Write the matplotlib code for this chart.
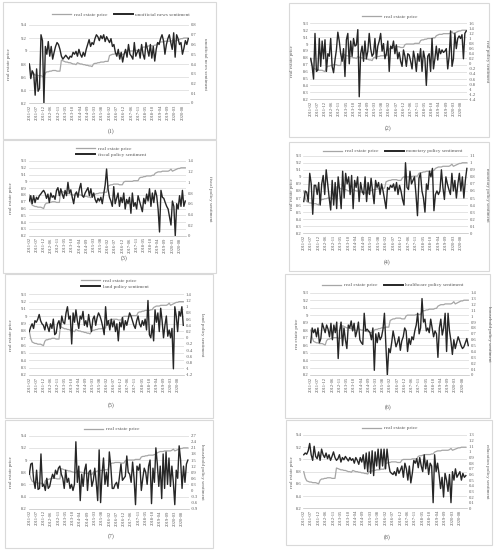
import numpy as np
import matplotlib
matplotlib.use("Agg")
import matplotlib.pyplot as plt
from matplotlib.patches import Rectangle
from matplotlib.lines import Line2D

plt.rcParams['font.family'] = ['Liberation Serif', 'DejaVu Serif']

# month labels: January is merged into February, so 11 points a year, 2011-2020
months = []
for yr in range(2011, 2021):
    for m in range(2, 13):
        months.append("%d-%02d" % (yr, m))

# real estate price (log), same series in every panel
price = [8.80, 8.70, 8.65, 8.64, 8.63, 8.63, 8.62, 8.62, 8.62, 8.61, 8.60,
         8.66, 8.68, 8.68, 8.69, 8.69, 8.70, 8.70, 8.70, 8.69, 8.69, 8.69,
         8.86, 8.85, 8.84, 8.83, 8.83, 8.82, 8.82, 8.81, 8.80, 8.80, 8.79,
         8.82, 8.81, 8.80, 8.80, 8.79, 8.79, 8.78, 8.78, 8.77, 8.77, 8.76,
         8.80, 8.81, 8.81, 8.82, 8.82, 8.83, 8.83, 8.83, 8.84, 8.84, 8.84,
         8.93, 8.94, 8.95, 8.95, 8.96, 8.96, 8.96, 8.96, 8.95, 8.95, 8.95,
         8.99, 9.00, 9.00, 9.00, 9.00, 9.00, 9.00, 9.01, 9.01, 9.01, 9.01,
         9.05, 9.06, 9.06, 9.07, 9.07, 9.08, 9.08, 9.08, 9.08, 9.09, 9.09,
         9.12, 9.13, 9.14, 9.14, 9.14, 9.15, 9.15, 9.15, 9.15, 9.15, 9.16,
         9.18, 9.15, 9.16, 9.17, 9.18, 9.19, 9.19, 9.20, 9.20, 9.20, 9.20]

unofficial_news = [0.40, 0.25, 0.33, 0.30, 0.08, 0.35, 0.12, 0.15, 0.70, 0.64,
                   0.00, 0.58, 0.50, 0.63, 0.48, 0.58, 0.45, 0.52, 0.58, 0.62,
                   0.60, 0.55, 0.48, 0.45, 0.47, 0.49, 0.47, 0.45, 0.48, 0.47,
                   0.52, 0.50, 0.53, 0.48, 0.55, 0.50, 0.47, 0.52, 0.48, 0.55,
                   0.60, 0.65, 0.58, 0.62, 0.60, 0.66, 0.70, 0.68, 0.64, 0.69,
                   0.66, 0.70, 0.63, 0.68, 0.65, 0.62, 0.66, 0.58, 0.60, 0.52,
                   0.48, 0.55, 0.45, 0.52, 0.42, 0.50, 0.55, 0.47, 0.60, 0.50,
                   0.48, 0.45, 0.62, 0.48, 0.52, 0.55, 0.46, 0.60, 0.50, 0.45,
                   0.62, 0.55, 0.48, 0.60, 0.46, 0.58, 0.43, 0.55, 0.62, 0.60,
                   0.66, 0.70, 0.64, 0.50, 0.60, 0.66, 0.70, 0.62, 0.55, 0.72,
                   0.47, 0.70, 0.66, 0.60, 0.62, 0.50, 0.56, 0.64, 0.60, 0.66]

real_policy = [0.20, -0.10, -0.60, 1.20, -0.30, -0.25, 1.00, -0.10, 0.90, 0.20,
               0.95, -0.30, 0.40, 0.30, 1.00, -0.10, -0.35, 0.15, 0.55, 1.25,
               0.90, 0.40, 0.10, 0.60, -0.50, 0.95, 1.20, 0.00, 0.90, 0.30,
               1.00, 0.70, 0.75, 1.35, -1.30, 0.40, 0.70, 0.10, 0.90, 0.20,
               0.50, 1.20, 0.60, 0.30, 0.40, 1.00, 0.20, 0.70, 0.90, 1.20,
               0.50, 0.80, 0.20, 0.40, 0.90, -0.30, 0.70, 0.60, 0.90, 0.40,
               0.75, 0.20, 0.45, 0.10, -0.10, 0.55, 0.30, -0.10, 0.40, 0.35,
               0.10, -0.20, 0.50, 0.20, -0.30, 0.40, 0.10, 0.60, -0.30, 0.50,
               0.20, -0.85, 0.30, 0.40, -0.30, 1.00, -0.20, 0.20, 0.70, 0.15,
               0.60, 0.40, 0.55, 0.45, 0.50, 0.60, -0.20, 0.30, 1.30, -0.10,
               0.20, 1.20, 0.60, 1.00, 1.10, 1.00, 1.15, 0.20, 1.20, 1.30]

fiscal_policy = [0.65, 0.75, 0.60, 0.75, 0.62, 0.72, 0.68, 0.75, 0.78, 0.82,
                 0.85, 0.80, 0.70, 0.78, 0.62, 0.80, 0.72, 0.75, 0.68, 0.85,
                 0.90, 0.75, 0.88, 0.78, 0.70, 0.85, 0.75, 1.00, 0.80, 0.86,
                 0.72, 0.60, 0.78, 0.82, 0.72, 0.88, 0.98, 0.75, 0.72, 0.80,
                 0.85, 0.90, 0.75, 0.88, 0.72, 0.80, 0.68, 0.62, 0.70, 0.65,
                 0.72, 0.60, 0.78, 0.95, 1.25, 0.88, 0.72, 0.65, 0.55, 0.92,
                 0.60, 0.70, 0.80, 0.55, 0.72, 0.62, 0.80, 0.50, 0.68, 0.60,
                 0.72, 0.42, 0.80, 0.55, 0.62, 0.50, 0.75, 0.65, 0.55, 0.45,
                 0.70, 0.60, 0.78, 0.65, 0.88, 0.55, 0.80, 0.62, 0.85, 0.75,
                 0.50, 0.07, 0.85, 0.72, 0.70, 0.62, 0.55, 0.50, 0.35, 0.20,
                 0.65, 0.55, 0.00, 0.60, 0.50, 0.75, 0.55, 0.85, 0.55, 0.65]

monetary_policy = [0.45, 0.60, 0.58, 0.45, 0.85, 0.70, 0.27, 0.68, 0.68, 0.55,
                   0.72, 0.40, 0.70, 0.82, 0.55, 0.90, 0.70, 0.50, 0.33, 0.75,
                   0.40, 0.72, 0.35, 0.80, 0.60, 0.35, 0.88, 0.50, 0.85, 0.70,
                   0.80, 0.55, 0.82, 0.35, 0.75, 0.65, 0.80, 0.45, 0.72, 0.60,
                   0.55, 0.80, 0.45, 0.72, 0.55, 0.78, 0.60, 0.42, 0.75, 0.65,
                   0.72, 0.55, 0.70, 0.60, 0.48, 0.35, 0.65, 0.62, 0.68, 0.65,
                   0.70, 0.60, 0.72, 0.55, 0.68, 0.60, 0.48, 0.40, 1.00, 0.65,
                   0.62, 0.88, 0.70, 0.75, 0.80, 0.55, 0.25, 0.78, 0.85, 0.60,
                   0.50, 0.30, 0.70, 0.62, 0.88, 0.80, 0.92, 0.32, 0.55, 0.60,
                   0.55, 0.60, 0.90, 0.65, 0.48, 0.80, 0.70, 0.62, 0.55, 0.85,
                   0.60, 0.75, 0.50, 0.70, 0.85, 0.60, 0.80, 0.50, 0.75, 0.92]

land_policy = [0.20, 0.35, 0.45, 0.30, 0.55, 0.50, 0.60, 0.75, 0.55, 0.45,
               0.40, 0.25, 0.50, 0.35, 0.20, 0.45, 0.30, 0.60, 0.10, 0.15,
               0.45, 0.55, 0.30, 0.70, 0.50, 0.45, 0.80, 1.00, 0.60, 0.70,
               -0.20, 0.80, 0.50, 0.90, 0.55, 0.30, 0.70, 0.60, 0.85, 0.40,
               0.55, 0.35, 0.75, 0.45, 0.20, 0.60, 0.70, 0.40, 0.65, 0.80,
               0.70, 0.55, 0.35, 0.10, 1.00, 0.40, 0.55, 0.25, 0.60, 0.35,
               0.55, 0.20, 0.45, -0.10, 0.50, 0.35, 0.65, 0.25, 0.55, 0.40,
               0.60, 0.80, 0.70, 0.55, 0.40, 0.30, 0.55, 0.70, 0.45, 0.35,
               0.55, 0.40, 0.60, 0.25, 1.20, 0.10, 0.00, 0.40, -0.10, 0.90,
               0.50, 0.80, 0.20, 0.95, 0.55, 0.00, 0.40, 0.70, 0.05, 0.25,
               0.00, 0.30, -1.00, 1.00, 0.70, 0.20, 0.85, 0.70, 1.00, 0.40]

healthcare_policy = [0.55, 0.80, 0.72, 0.78, 0.65, 0.80, 0.55, 0.62, 0.88, 0.80,
                     0.72, 0.85, 0.78, 0.65, 0.88, 0.60, 0.85, 0.72, 0.90, 0.28,
                     0.75, 0.90, 0.50, 0.80, 0.60, 0.45, 0.85, 0.80, 0.92, 0.75,
                     0.88, 0.65, 0.75, 0.90, 0.60, 0.55, 0.52, 1.05, 0.75, 0.78,
                     0.75, 0.72, 0.60, 0.80, 0.08, 0.70, 0.55, 0.72, 0.60, 0.65,
                     0.78, 1.05, 0.50, 0.00, 0.45, 0.38, 0.55, 0.75, 0.62, 0.48,
                     0.55, 0.65, 0.42, 0.58, 0.65, 0.80, 0.75, 0.40, 0.62, 0.52,
                     0.65, 0.60, 0.75, 0.85, 1.05, 0.70, 0.80, 1.30, 0.90, 0.95,
                     0.75, 0.80, 0.72, 0.95, 0.80, 0.65, 0.75, 0.70, 0.30, 0.80,
                     0.95, 0.68, 0.80, 1.05, 0.40, 1.05, 0.75, 0.58, 0.35, 0.60,
                     0.45, 0.55, 0.65, 0.58, 0.50, 0.45, 0.48, 0.55, 0.62, 0.50]

household_policy = [0.80, 1.30, 1.35, 0.50, 0.10, 1.00, 0.05, 0.10, 1.80, 0.20,
                    0.30, 0.00, 0.60, 0.10, 0.20, 0.55, 0.80, 0.60, 1.00, 0.80,
                    1.10, 1.20, 0.80, 0.60, 0.10, 1.00, 0.40, 0.60, 0.10, 0.30,
                    0.00, 0.30, 2.40, 0.40, 1.20, -0.50, 0.80, 0.20, 1.00, 1.30,
                    0.00, 0.90, 1.00, 0.20, 0.50, 1.10, 0.40, -0.50, 2.00, -0.60,
                    0.80, 1.60, 0.30, 0.90, 0.20, 1.90, 1.20, 0.10, 0.10, 0.30,
                    0.40, 0.10, 0.70, 1.30, 0.50, 0.60, 0.70, 1.70, 0.90, 0.80,
                    0.40, 1.40, 0.60, -0.70, 1.20, 1.00, 1.30, 0.00, 0.60, 1.10,
                    0.90, 0.30, 1.20, 1.50, -0.65, 1.10, 0.40, 2.10, 1.30, 0.20,
                    1.20, -0.40, 1.80, 0.10, 1.90, 0.30, 1.60, 0.20, 1.20, 0.40,
                    -0.70, 1.00, 0.60, 2.20, 1.50, 0.10, 1.20, 0.40, 1.30, 1.50]

education_policy = [0.95, 0.98, 0.96, 1.02, 1.15, 0.95, 0.85, 1.10, 0.92, 0.88,
                    1.00, 0.85, 1.05, 0.95, 0.90, 0.98, 0.88, 0.95, 0.85, 0.92,
                    1.00, 0.90, 0.85, 0.88, 0.95, 0.82, 0.90, 0.86, 0.92, 0.88,
                    0.84, 0.90, 0.85, 0.88, 0.80, 0.90, 0.85, 0.78, 0.90, 0.82,
                    0.95, 0.70, 0.98, 0.65, 1.00, 0.62, 1.02, 0.58, 1.00, 0.75,
                    1.05, 0.70, 1.05, 0.75, 1.05, 0.70, 1.05, 0.80, 0.65, 0.62,
                    0.60, 0.65, 0.58, 0.72, 0.62, 0.68, 0.75, 0.55, 0.80, 0.70,
                    0.50, 0.75, 0.45, 0.62, 0.85, 0.80, 0.88, 0.72, 0.90, 0.75,
                    0.65, 0.95, 0.70, 0.85, 0.60, 0.80, 0.75, 0.10, 0.95, 0.65,
                    0.80, 0.60, 0.35, 0.55, 0.20, 0.62, 0.50, 0.30, 0.60, 0.10,
                    0.65, 0.50, 0.70, 0.55, 0.60, 0.65, 0.50, 0.62, 0.55, 0.58]

GREY = '#a6a6a6'
BLACK = '#262626'
TXT = '#595959'
W, H = 499, 550

def fx(x):
    return x / W

def fy(y):
    return 1 - y / H

# one entry per panel: series, right axis label, legend labels, axis ranges and pixel placement
panels = [
    dict(sent=unofficial_news, rlabel='unofficial news sentiment', llabel='real estate price',
         leg=['real estate price', 'unofficial news sentiment'], ncol=2, legpos=(121, 15),
         left=(8.2, 9.4, 0.2), right=(0, 0.8, 0.1),
         box=(3, 2, 216, 139), plot=(28.6, 25, 189, 103), lx=9, rx=205, cap=(111, 131, '(1)')),
    dict(sent=real_policy, rlabel='real policy sentiment', llabel='real estate price',
         leg=['real estate price'], ncol=1, legpos=(390, 17),
         left=(8.2, 9.3, 0.1), right=(-1.4, 1.6, 0.2),
         box=(289, 3, 489, 137), plot=(310, 23.3, 467, 99.3), lx=292, rx=487, cap=(388, 128, '(2)')),
    dict(sent=fiscal_policy, rlabel='fiscal policy sentiment', llabel='real estate price',
         leg=['real estate price', 'fiscal policy sentiment'], ncol=1, legpos=(111, 151.5),
         left=(8.2, 9.3, 0.1), right=(0, 1.4, 0.2),
         box=(3, 140, 216, 273), plot=(28.6, 161, 186, 235.7), lx=11, rx=210, cap=(124, 258, '(3)')),
    dict(sent=monetary_policy, rlabel='monetary policy sentiment', llabel='real estate price',
         leg=['real estate price', 'monetary policy sentiment'], ncol=2, legpos=(393, 151),
         left=(8.2, 9.3, 0.1), right=(0, 1.1, 0.1),
         box=(289, 142, 489, 271), plot=(303, 155.7, 467.6, 233.3), lx=292, rx=487, cap=(387, 262, '(4)')),
    dict(sent=land_policy, rlabel='land policy sentiment', llabel='real estate price',
         leg=['real estate price', 'land policy sentiment'], ncol=1, legpos=(115, 283.5),
         left=(8.2, 9.3, 0.1), right=(-1.2, 1.4, 0.2),
         box=(5, 274, 213, 418), plot=(28.6, 294.3, 184, 375), lx=11, rx=202, cap=(111, 405, '(5)')),
    dict(sent=healthcare_policy, rlabel='household policy sentiment', llabel='rea estate price',
         leg=['real estate price', 'healthcare policy sentiment'], ncol=2, legpos=(393, 285),
         left=(8.2, 9.3, 0.1), right=(0, 1.4, 0.1),
         box=(285, 274, 490, 418), plot=(310, 292.7, 469, 375), lx=297, rx=489, cap=(388, 407, '(6)')),
    dict(sent=household_policy, rlabel='household policy sentiment', llabel='real estate price',
         leg=['real estate price'], ncol=1, legpos=(112, 429),
         left=(8.2, 9.4, 0.2), right=(-0.9, 2.7, 0.3),
         box=(5, 420, 213, 548), plot=(28.6, 435.7, 188.6, 508.7), lx=11, rx=202, cap=(111, 536, '(7)')),
    dict(sent=education_policy, rlabel='education policy sentiment', llabel='real estate price',
         leg=['real estate price'], ncol=1, legpos=(390, 428),
         left=(8.2, 9.4, 0.2), right=(0, 1.3, 0.1),
         box=(286, 420, 492, 545), plot=(303, 435, 466.6, 508.3), lx=292, rx=487, cap=(387, 537, '(8)')),
]

def fmt(v):
    v = round(v, 2)
    if v == 0:
        v = 0.0
    return '%g' % v

fig = plt.figure(figsize=(W / 100, H / 100), dpi=100)
idx = np.arange(len(months))

for p in panels:
    bx0, by0, bx1, by1 = p['box']
    fig.add_artist(Rectangle((fx(bx0), fy(by1)), (bx1 - bx0) / W, (by1 - by0) / H,
                             transform=fig.transFigure, fill=False, ec='#d9d9d9', lw=0.8))

    x0, y0, x1, y1 = p['plot']
    ax = fig.add_axes([fx(x0), fy(y1), (x1 - x0) / W, (y1 - y0) / H])
    ax2 = ax.twinx()

    ax.plot(idx, price, color=GREY, lw=0.9)
    ax2.plot(idx, p['sent'], color=BLACK, lw=1.0)

    lo, hi, st = p['left']
    lt = np.round(np.arange(lo, hi + st / 2, st), 2)
    ax.set_ylim(lo, hi)
    ax.set_yticks(lt)
    ax.set_yticklabels([fmt(v) for v in lt])
    lo, hi, st = p['right']
    rt = np.round(np.arange(lo, hi + st / 2, st), 2)
    ax2.set_ylim(lo, hi)
    ax2.set_yticks(rt)
    ax2.set_yticklabels([fmt(v) for v in rt])

    ax.set_xlim(-0.5, len(months) - 0.5)
    ax.set_xticks(idx[::5])
    ax.set_xticklabels(months[::5], rotation=90)

    ax.grid(axis='y', color='#d9d9d9', lw=0.5)
    ax.set_axisbelow(True)
    for a in (ax, ax2):
        for s in a.spines.values():
            s.set_visible(False)
    ax.spines['bottom'].set_visible(True)
    ax.spines['bottom'].set_color('#bfbfbf')
    ax.spines['bottom'].set_linewidth(0.5)
    ax.tick_params(axis='both', length=0, labelsize=3.3, colors=TXT, pad=1.2)
    ax2.tick_params(axis='y', length=0, labelsize=3.3, colors=TXT, pad=1.5)

    yc = fy((y0 + y1) / 2)
    fig.text(fx(p['lx']), yc, p['llabel'], rotation=90, ha='center', va='center',
             fontsize=3.6, color=TXT)
    fig.text(fx(p['rx']), yc, p['rlabel'], rotation=270, ha='center', va='center',
             fontsize=3.6, color=TXT)

    cx, cy, ct = p['cap']
    fig.text(fx(cx), fy(cy), ct, ha='center', va='center', fontsize=4.2, color=TXT)

    handles = [Line2D([], [], color=GREY, lw=0.9), Line2D([], [], color=BLACK, lw=1.4)]
    fig.legend(handles[:len(p['leg'])], p['leg'], loc='center',
               bbox_to_anchor=(fx(p['legpos'][0]), fy(p['legpos'][1])),
               ncol=p['ncol'], frameon=False, fontsize=3.8, handlelength=3.6,
               handletextpad=0.5, columnspacing=1.2, labelspacing=0.15,
               borderpad=0, labelcolor=TXT)

fig.savefig('out.png', dpi=100, facecolor='white')
